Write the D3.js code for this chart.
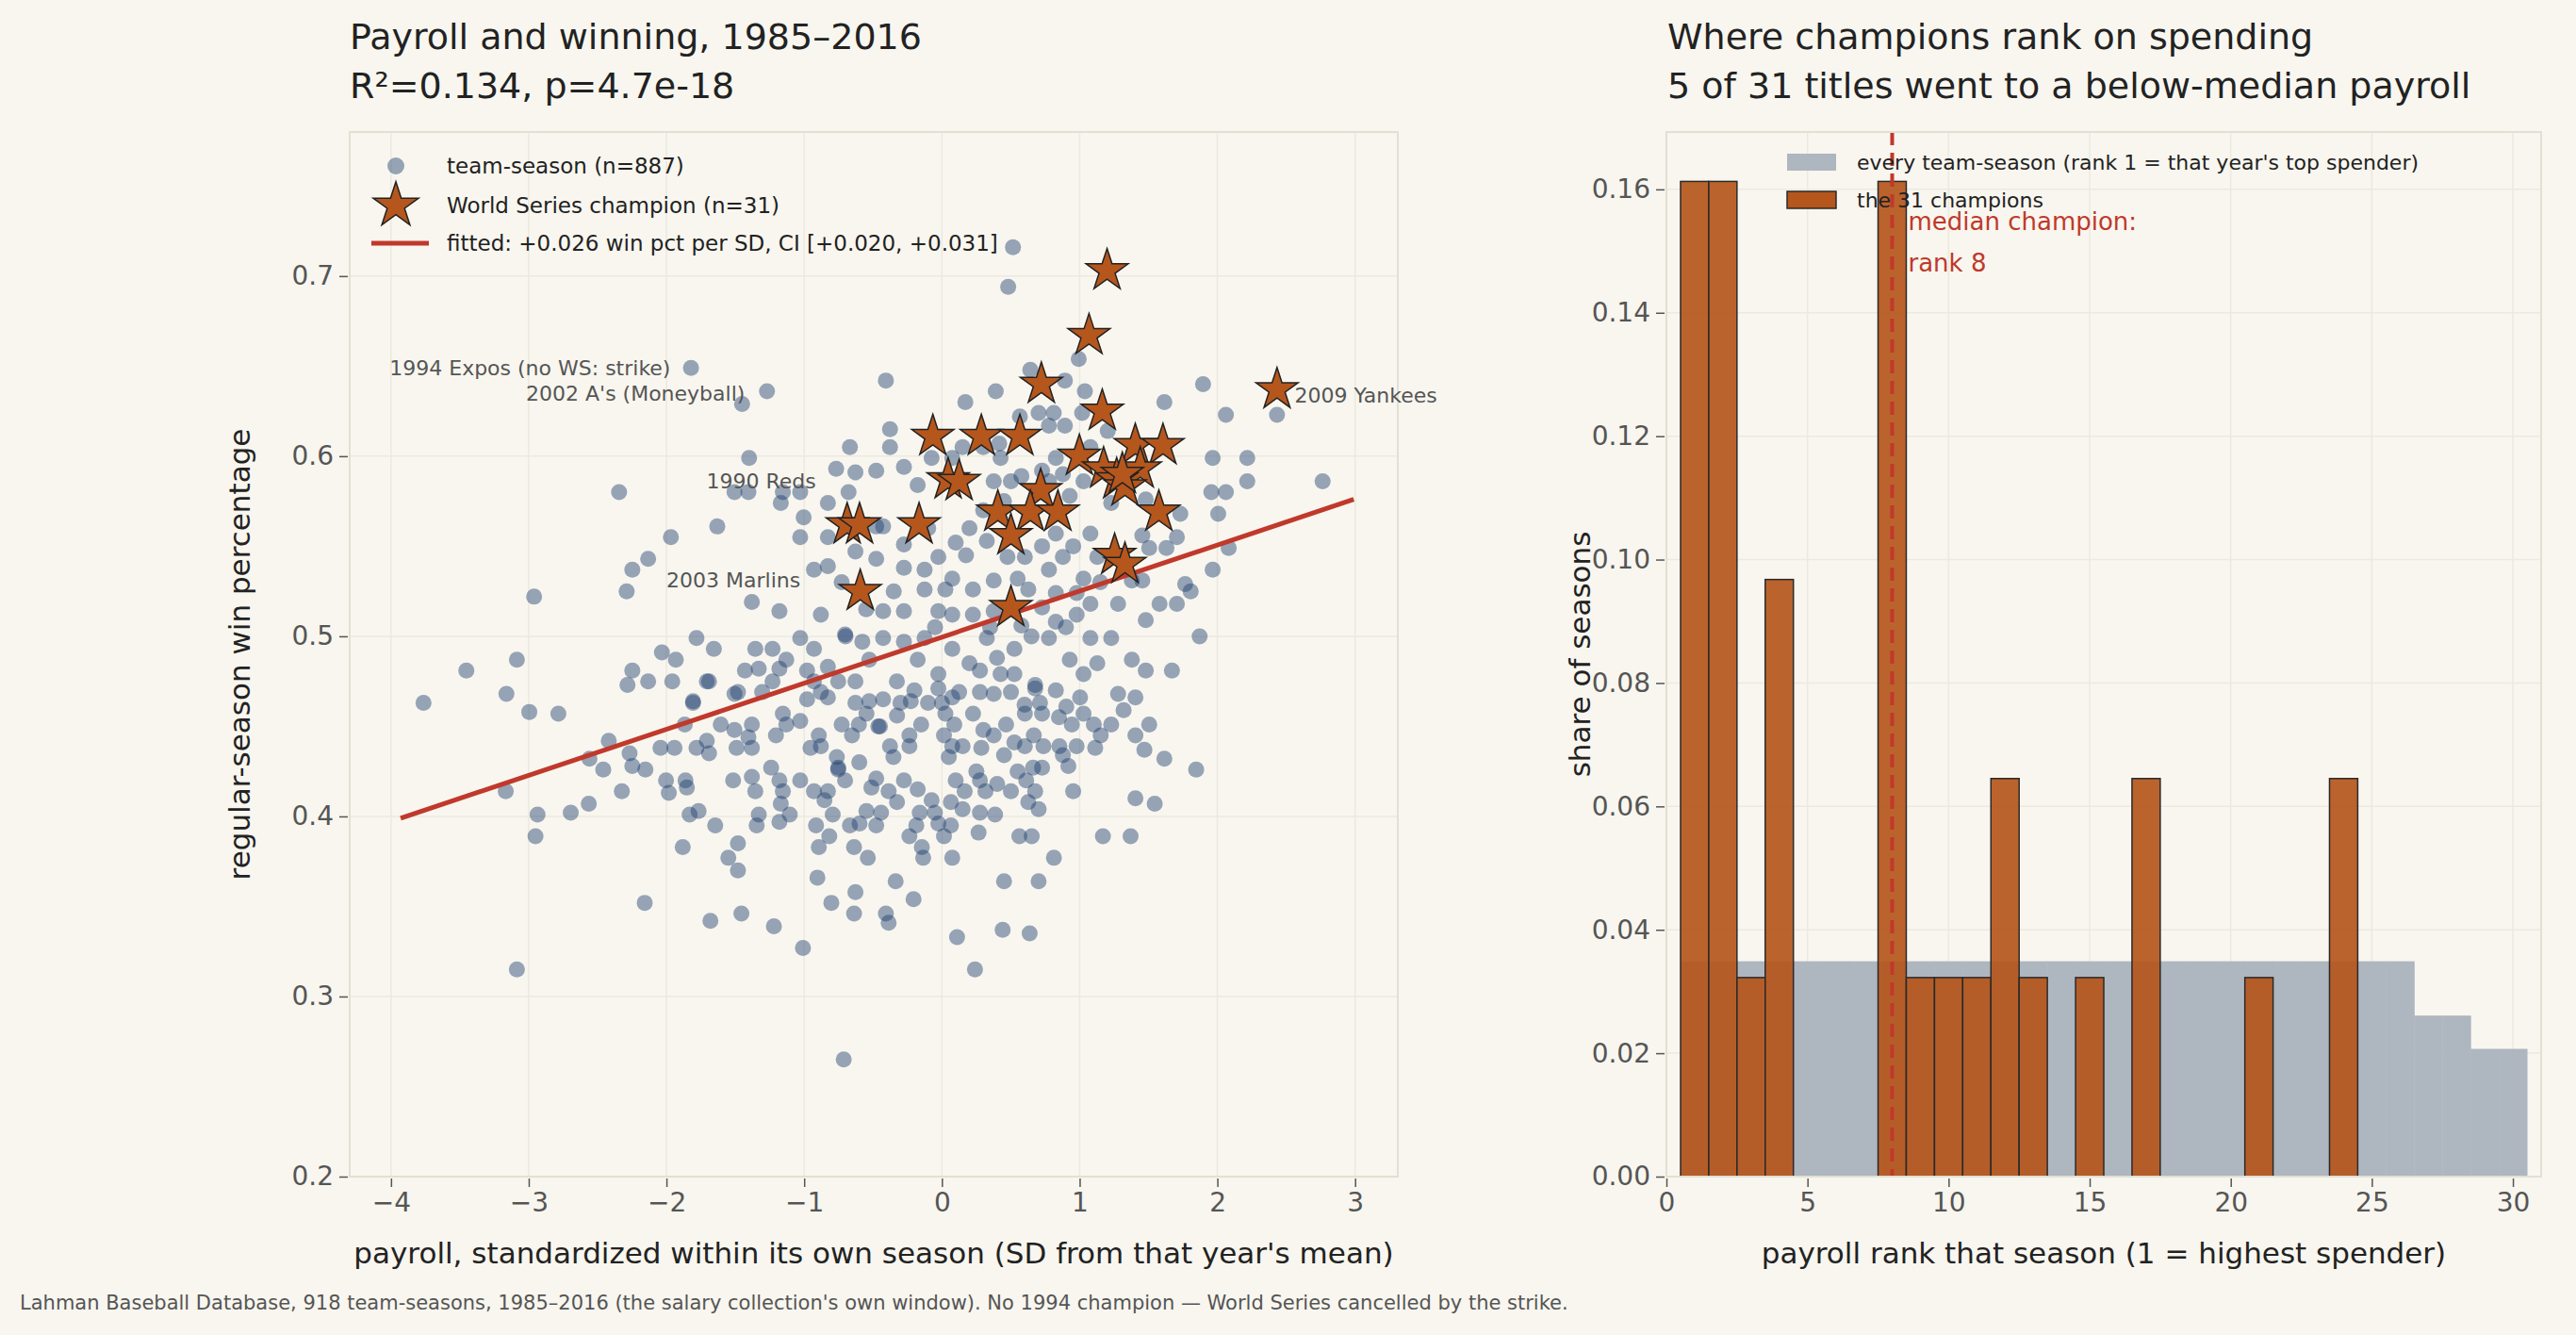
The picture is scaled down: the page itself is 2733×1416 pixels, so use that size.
<!DOCTYPE html>
<html>
<head>
<meta charset="utf-8">
<script src="https://d3js.org/d3.v7.min.js"></script>
<style>
  body { margin: 0; background: #f8f6ef; }
  svg { font-family: "DejaVu Sans", sans-serif; }
  .tick text { fill: #555; }
</style>
</head>
<body>
<svg id="chart" width="2733" height="1416"></svg>
<script>
// team-season points, [payroll SD, win pct]
var teamSeasons = [
[-1.822,0.649],[-1.270,0.636],[-1.451,0.629],[-0.407,0.642],[0.481,0.694],[0.516,0.716],[0.993,0.654],[0.642,0.648],
[0.893,0.642],[0.391,0.636],[0.170,0.630],[1.038,0.636],[1.018,0.624],[1.615,0.630],[1.896,0.640],[2.062,0.623],
[2.433,0.623],[0.566,0.622],[0.702,0.624],[0.812,0.624],[0.777,0.617],[0.893,0.617],[1.204,0.614],[-0.377,0.615],
[-0.668,0.605],[-0.377,0.605],[-1.400,0.599],[-2.344,0.580],[-1.631,0.561],[-1.968,0.555],[-2.133,0.543],[-2.248,0.537],
[-2.289,0.525],[-2.961,0.522],[1.966,0.599],[2.217,0.599],[2.217,0.586],[2.764,0.586],[1.956,0.580],[2.062,0.580],
[2.006,0.568],[2.082,0.549],[1.966,0.537],[1.766,0.529],[1.806,0.525],[1.871,0.500],[1.670,0.481],[1.480,0.481],
[1.706,0.518],[1.580,0.518],[1.480,0.509],[1.379,0.487],[1.229,0.499],[-0.768,0.593],[-0.628,0.591],[-0.477,0.592],
[-0.276,0.594],[-0.176,0.584],[-0.075,0.599],[0.075,0.599],[0.150,0.605],[0.301,0.605],[0.416,0.607],[0.426,0.599],
[0.376,0.586],[0.501,0.586],[0.577,0.589],[0.727,0.592],[0.827,0.599],[0.878,0.590],[0.777,0.586],[1.028,0.586],
[1.078,0.605],[0.928,0.578],[1.229,0.574],[1.480,0.576],[1.731,0.568],[1.455,0.556],[1.706,0.555],[1.505,0.549],
[1.630,0.549],[-1.155,0.580],[-1.029,0.580],[-1.506,0.580],[-1.405,0.580],[-1.170,0.574],[-0.828,0.574],[-0.678,0.580],
[-1.004,0.566],[-1.029,0.555],[-0.828,0.555],[-0.477,0.561],[-0.427,0.561],[-0.276,0.551],[-0.628,0.547],[-0.477,0.543],
[-0.828,0.539],[-0.929,0.537],[-0.728,0.530],[-0.276,0.538],[-0.126,0.537],[-0.026,0.544],[0.075,0.532],[0.175,0.545],
[0.326,0.553],[0.476,0.544],[0.602,0.544],[0.727,0.550],[0.827,0.557],[0.953,0.550],[1.078,0.557],[1.128,0.544],
[0.878,0.544],[0.777,0.537],[1.028,0.532],[1.379,0.531],[1.455,0.531],[-0.126,0.526],[0.025,0.526],[0.225,0.526],
[0.376,0.531],[0.627,0.526],[0.827,0.524],[0.978,0.524],[1.078,0.518],[1.279,0.518],[0.978,0.512],[-1.380,0.519],
[-1.180,0.514],[-0.879,0.512],[-1.355,0.493],[-1.230,0.493],[-1.029,0.499],[-0.929,0.493],[-1.782,0.499],[-2.033,0.491],
[-1.932,0.487],[-1.656,0.493],[-3.086,0.487],[-3.453,0.481],[-3.764,0.463],[-2.248,0.481],[-0.703,0.501],[-0.578,0.497],
[-0.427,0.499],[-0.276,0.497],[-0.126,0.499],[-0.427,0.514],[-0.276,0.514],[-0.026,0.514],[0.075,0.512],[0.225,0.512],
[0.376,0.514],[0.727,0.516],[0.827,0.508],[0.577,0.506],[0.326,0.499],[0.526,0.493],[0.777,0.499],[1.078,0.499],
[0.928,0.487],[1.128,0.485],[0.075,0.493],[-0.176,0.487],[-0.528,0.487],[-0.828,0.483],[-1.130,0.487],[-1.430,0.481],
[-1.230,0.475],[-0.929,0.475],[-0.628,0.475],[-0.327,0.475],[-0.026,0.479],[0.276,0.481],[0.526,0.479],[0.677,0.473],
[0.376,0.468],[0.075,0.466],[-0.226,0.464],[-0.528,0.464],[-0.828,0.466],[1.028,0.479],[1.279,0.468],[1.003,0.466],
[-2.133,0.475],[-1.958,0.475],[-1.707,0.475],[-1.807,0.464],[-1.506,0.468],[-3.162,0.468],[-2.283,0.473],
[-2.996,0.458],[-2.785,0.457],[-2.419,0.442],[-2.559,0.432],[-2.459,0.426],[-2.268,0.435],[-2.248,0.428],[-2.153,0.426],
[-2.324,0.414],[-2.564,0.407],[-2.695,0.402],[-2.936,0.401],[-2.951,0.389],[-3.167,0.414],[-2.043,0.438],[-1.942,0.438],
[-1.782,0.438],[-1.691,0.435],[-1.707,0.442],[-1.867,0.451],[-1.606,0.451],[-1.807,0.463],[-1.691,0.475],[-2.003,0.420],
[-1.983,0.413],[-1.862,0.420],[-1.852,0.416],[-1.832,0.401],[-1.767,0.403],[-1.646,0.395],[-1.882,0.383],[-1.481,0.385],
[-1.551,0.377],[-1.481,0.370],[-1.516,0.420],[-1.380,0.422],[-1.355,0.414],[-1.330,0.401],[-1.345,0.395],[-1.180,0.397],
[-1.105,0.401],[-1.170,0.407],[-1.155,0.414],[-1.180,0.420],[-1.240,0.427],[-1.029,0.420],[-0.929,0.414],[-0.828,0.414],
[-0.753,0.426],[-0.753,0.427],[-0.763,0.433],[-0.703,0.420],[-0.853,0.409],[-0.793,0.401],[-0.914,0.395],[-0.818,0.389],
[-0.894,0.383],[-0.638,0.383],[-0.668,0.395],[-0.598,0.396],[-0.538,0.377],[-0.477,0.395],[-0.442,0.402],[-0.548,0.403],
[-0.512,0.416],[-0.387,0.414],[-0.326,0.408],[-0.477,0.421],[-0.276,0.420],[-0.176,0.415],[-0.075,0.409],[-0.161,0.402],
[-0.051,0.402],[-0.186,0.395],[-0.236,0.389],[-0.146,0.383],[-0.136,0.377],[0.015,0.389],[-0.026,0.396],[0.065,0.395],
[0.075,0.377],[0.065,0.408],[0.100,0.420],[0.165,0.414],[0.276,0.420],[0.316,0.414],[0.401,0.418],[0.501,0.414],
[0.276,0.402],[0.386,0.401],[0.266,0.391],[0.562,0.389],[0.652,0.389],[0.627,0.408],[0.702,0.404],[0.677,0.414],
[0.612,0.420],[0.662,0.427],[0.727,0.427],[0.813,0.377],[0.953,0.414],[1.169,0.389],[1.370,0.389],[1.405,0.410],
[1.545,0.407],[1.846,0.426],[1.615,0.432],[1.470,0.437],[1.405,0.445],[1.505,0.451],[1.319,0.459],[1.405,0.466],
[1.229,0.451],[1.103,0.451],[1.113,0.438],[1.153,0.445],[0.918,0.428],[0.878,0.434],[0.853,0.439],[0.978,0.439],
[0.943,0.451],[1.028,0.457],[0.903,0.461],[0.827,0.470],[0.712,0.463],[0.677,0.471],[0.602,0.457],[0.727,0.457],
[0.667,0.445],[0.737,0.439],[0.602,0.439],[0.526,0.441],[0.451,0.434],[0.466,0.451],[0.376,0.445],[0.501,0.469],
[0.426,0.479],[0.276,0.469],[0.226,0.457],[0.301,0.448],[0.286,0.438],[0.150,0.439],[0.050,0.433],[0.075,0.439],
[0.015,0.445],[0.090,0.451],[0.025,0.457],[0.000,0.463],[0.125,0.469],[-0.026,0.471],[-0.101,0.463],[-0.151,0.451],
[-0.236,0.445],[-0.236,0.439],[-0.352,0.433],[-0.377,0.439],[-0.326,0.456],[-0.301,0.463],[-0.427,0.465],[-0.462,0.450],
[-0.548,0.457],[-0.603,0.451],[-0.653,0.445],[-0.728,0.451],[-0.628,0.463],[-0.753,0.475],[-0.879,0.469],[-0.979,0.465],
[-1.029,0.453],[-0.894,0.445],[-0.879,0.439],[-0.954,0.438],[-1.130,0.451],[-1.205,0.445],[-1.380,0.451],[-1.506,0.448],
[-1.405,0.444],[-1.380,0.438],[-1.491,0.438],[-1.481,0.469],[-1.305,0.469],[-1.155,0.457],[-0.979,0.481],[-1.180,0.482],
[-1.330,0.482],[-2.158,0.352],[-1.681,0.342],[-1.456,0.346],[-1.220,0.339],[-1.009,0.327],[-0.904,0.366],[-0.803,0.352],
[-0.628,0.358],[-0.638,0.346],[-0.407,0.346],[-0.387,0.341],[-0.336,0.364],[-0.206,0.354],[0.110,0.333],[0.451,0.364],
[0.702,0.364],[0.441,0.337],[0.637,0.335],[0.240,0.315],[-3.086,0.315],[-0.713,0.265],
[0.20,0.560],[0.30,0.570],[0.10,0.552],[-0.10,0.560],[0.45,0.575],[0.55,0.532],[0.35,0.505],[0.65,0.500],
[0.20,0.485],[-0.05,0.505],[-0.35,0.525],[-0.55,0.515],[0.90,0.505],[1.15,0.530],[0.25,0.425],[-0.60,0.430],
[0.55,0.425],[0.85,0.455],[-0.20,0.470],[-0.70,0.500],[0.60,0.462],[0.40,0.488],[-0.45,0.450],[0.15,0.404]
];
// World Series champions
var champions = [
[1.199,0.703],[1.068,0.667],[0.722,0.640],[1.164,0.625],[2.433,0.637],[-0.066,0.611],[0.286,0.611],[0.566,0.611],
[0.998,0.600],[1.404,0.606],[1.605,0.606],[1.174,0.593],[1.440,0.593],[1.269,0.587],[1.329,0.583],[0.045,0.587],
[0.125,0.586],[0.717,0.581],[0.406,0.569],[0.642,0.569],[0.842,0.569],[1.575,0.569],[-0.688,0.562],[-0.598,0.562],
[-0.166,0.562],[0.501,0.556],[1.254,0.545],[1.329,0.540],[-0.593,0.525],[0.501,0.516],[1.31,0.590]
];
var fitX = [-3.93, 2.99];
var fitY = [0.399, 0.576];
var notes = [
  {text: "1994 Expos (no WS: strike)", x: -1.97, y: 0.649, anchor: "end"},
  {text: "2002 A's (Moneyball)", x: -1.43, y: 0.635, anchor: "end"},
  {text: "1990 Reds", x: -1.71, y: 0.586, anchor: "start"},
  {text: "2003 Marlins", x: -2.0, y: 0.531, anchor: "start"},
  {text: "2009 Yankees", x: 2.56, y: 0.634, anchor: "start"}
];
var scatterXTicks = [-4, -3, -2, -1, 0, 1, 2, 3];
var scatterYTicks = [0.2, 0.3, 0.4, 0.5, 0.6, 0.7];

// payroll-rank histogram (share of seasons per rank)
var ranks = d3.range(1, 31);
var allShare = ranks.map(function(r) { return r <= 26 ? 0.0349 : (r <= 28 ? 0.0261 : 0.0207); });
var champCounts = [5,5,1,3,0,0,0,5,1,1,1,2,1,0,1,0,2,0,0,0,1,0,0,2,0,0,0,0,0,0];
var histXTicks = [0, 5, 10, 15, 20, 25, 30];
var histYTicks = [0, 0.02, 0.04, 0.06, 0.08, 0.10, 0.12, 0.14, 0.16];
var medianRank = 8;

var svg = d3.select("#chart");
var bg = "#f8f6ef", frame = "#e3e0d3", grid = "#ece9df";
var dotColor = "#1d3f6e", starColor = "#b5561c", fitColor = "#c0392b";

// ---------- left panel ----------
var L = {left: 371, right: 1483, top: 140, bottom: 1248};
var x1 = d3.scaleLinear().domain([-4.30, 3.31]).range([L.left, L.right]);
var y1 = d3.scaleLinear().domain([0.2, 0.78]).range([L.bottom, L.top]);

var g1 = svg.append("g");
g1.selectAll(".gx").data(scatterXTicks).join("line")
  .attr("x1", d => x1(d)).attr("x2", d => x1(d)).attr("y1", L.top).attr("y2", L.bottom)
  .attr("stroke", grid).attr("stroke-width", 1.5);
g1.selectAll(".gy").data(scatterYTicks).join("line")
  .attr("y1", d => y1(d)).attr("y2", d => y1(d)).attr("x1", L.left).attr("x2", L.right)
  .attr("stroke", grid).attr("stroke-width", 1.5);
g1.append("rect").attr("x", L.left).attr("y", L.top)
  .attr("width", L.right - L.left).attr("height", L.bottom - L.top)
  .attr("fill", "none").attr("stroke", frame).attr("stroke-width", 2);

g1.append("g").selectAll("circle").data(teamSeasons).join("circle")
  .attr("cx", d => x1(d[0])).attr("cy", d => y1(d[1])).attr("r", 8.5)
  .attr("fill", dotColor).attr("fill-opacity", 0.45);

g1.append("line")
  .attr("x1", x1(fitX[0])).attr("y1", y1(fitY[0]))
  .attr("x2", x1(fitX[1])).attr("y2", y1(fitY[1]))
  .attr("stroke", fitColor).attr("stroke-width", 5);

var star = d3.symbol().type(d3.symbolStar).size(620);
g1.append("g").selectAll("path").data(champions).join("path")
  .attr("d", star)
  .attr("transform", d => "translate(" + x1(d[0]) + "," + y1(d[1]) + ")")
  .attr("fill", starColor).attr("stroke", "#222").attr("stroke-width", 1.5);

g1.selectAll(".note").data(notes).join("text")
  .attr("x", d => x1(d.x)).attr("y", d => y1(d.y)).attr("dy", "0.35em")
  .attr("text-anchor", d => d.anchor)
  .attr("font-size", 22).attr("fill", "#555")
  .text(d => d.text);

var ax1 = g1.append("g").attr("transform", "translate(0," + (L.bottom + 2) + ")")
  .call(d3.axisBottom(x1).tickValues(scatterXTicks).tickSize(9).tickPadding(6)
    .tickFormat(d => d3.format("d")(d).replace("-", "\u2212")));
var ay1 = g1.append("g").attr("transform", "translate(" + (L.left - 2) + ",0)")
  .call(d3.axisLeft(y1).tickValues(scatterYTicks).tickSize(9).tickPadding(6).tickFormat(d3.format(".1f")));
[ax1, ay1].forEach(function(a) {
  a.select(".domain").remove();
  a.selectAll(".tick line").attr("stroke", "#555").attr("stroke-width", 1.5);
  a.selectAll(".tick text").attr("font-size", 28).attr("font-family", "DejaVu Sans");
});

g1.append("text").attr("x", (L.left + L.right) / 2).attr("y", 1340).attr("text-anchor", "middle")
  .attr("font-size", 31).attr("fill", "#222")
  .text("payroll, standardized within its own season (SD from that year's mean)");
g1.append("text").attr("transform", "translate(265,694) rotate(-90)").attr("text-anchor", "middle")
  .attr("font-size", 31).attr("fill", "#222").text("regular-season win percentage");
g1.append("text").attr("x", 371).attr("y", 52).attr("font-size", 38).attr("fill", "#222")
  .text("Payroll and winning, 1985\u20132016");
g1.append("text").attr("x", 371).attr("y", 104).attr("font-size", 38).attr("fill", "#222")
  .text("R\u00b2=0.134, p=4.7e-18");

// left legend
var lg = g1.append("g");
lg.append("circle").attr("cx", 420).attr("cy", 176).attr("r", 9).attr("fill", dotColor).attr("fill-opacity", 0.45);
lg.append("path").attr("d", d3.symbol().type(d3.symbolStar).size(720))
  .attr("transform", "translate(420,218)").attr("fill", starColor).attr("stroke", "#222").attr("stroke-width", 1.5);
lg.append("line").attr("x1", 394).attr("x2", 455).attr("y1", 258).attr("y2", 258)
  .attr("stroke", fitColor).attr("stroke-width", 5);
["team-season (n=887)", "World Series champion (n=31)", "fitted: +0.026 win pct per SD, CI [+0.020, +0.031]"]
  .forEach(function(t, i) {
    lg.append("text").attr("x", 474).attr("y", [176, 218, 258][i]).attr("dy", "0.35em")
      .attr("font-size", 23).attr("fill", "#222").text(t);
  });

// ---------- right panel ----------
var R = {left: 1768, right: 2696, top: 140, bottom: 1248};
var x2 = d3.scaleLinear().domain([0, 31]).range([R.left, R.right]);
var y2 = d3.scaleLinear().domain([0, 0.1693]).range([R.bottom, R.top]);
var g2 = svg.append("g");
g2.selectAll(".gx").data(histXTicks).join("line")
  .attr("x1", d => x2(d)).attr("x2", d => x2(d)).attr("y1", R.top).attr("y2", R.bottom)
  .attr("stroke", grid).attr("stroke-width", 1.5);
g2.selectAll(".gy").data(histYTicks).join("line")
  .attr("y1", d => y2(d)).attr("y2", d => y2(d)).attr("x1", R.left).attr("x2", R.right)
  .attr("stroke", grid).attr("stroke-width", 1.5);

g2.append("g").selectAll("rect").data(ranks).join("rect")
  .attr("x", d => x2(d - 0.5)).attr("width", x2(1) - x2(0) + 0.5)
  .attr("y", (d, i) => y2(allShare[i])).attr("height", (d, i) => y2(0) - y2(allShare[i]))
  .attr("fill", "#aeb6bf");

var nChamp = d3.sum(champCounts);
g2.append("g").selectAll("rect").data(ranks.filter((d, i) => champCounts[i] > 0)).join("rect")
  .attr("x", d => x2(d - 0.5)).attr("width", x2(1) - x2(0))
  .attr("y", d => y2(champCounts[d - 1] / nChamp)).attr("height", d => y2(0) - y2(champCounts[d - 1] / nChamp))
  .attr("fill", "#b5561c").attr("fill-opacity", 0.92).attr("stroke", "#2a2a2a").attr("stroke-width", 1.5);

g2.append("line").attr("x1", x2(medianRank)).attr("x2", x2(medianRank)).attr("y1", R.top).attr("y2", R.bottom)
  .attr("stroke", fitColor).attr("stroke-width", 4).attr("stroke-dasharray", "14,8");
g2.append("text").attr("x", x2(medianRank) + 17).attr("y", 244).attr("font-size", 26).attr("fill", fitColor)
  .text("median champion:");
g2.append("text").attr("x", x2(medianRank) + 17).attr("y", 288).attr("font-size", 26).attr("fill", fitColor)
  .text("rank 8");

g2.append("rect").attr("x", R.left).attr("y", R.top)
  .attr("width", R.right - R.left).attr("height", R.bottom - R.top)
  .attr("fill", "none").attr("stroke", frame).attr("stroke-width", 2);

var ax2 = g2.append("g").attr("transform", "translate(0," + (R.bottom + 2) + ")")
  .call(d3.axisBottom(x2).tickValues(histXTicks).tickSize(9).tickPadding(6));
var ay2 = g2.append("g").attr("transform", "translate(" + (R.left - 2) + ",0)")
  .call(d3.axisLeft(y2).tickValues(histYTicks).tickSize(9).tickPadding(6).tickFormat(d3.format(".2f")));
[ax2, ay2].forEach(function(a) {
  a.select(".domain").remove();
  a.selectAll(".tick line").attr("stroke", "#555").attr("stroke-width", 1.5);
  a.selectAll(".tick text").attr("font-size", 28).attr("font-family", "DejaVu Sans");
});

g2.append("text").attr("x", (R.left + R.right) / 2).attr("y", 1340).attr("text-anchor", "middle")
  .attr("font-size", 31).attr("fill", "#222").text("payroll rank that season (1 = highest spender)");
g2.append("text").attr("transform", "translate(1687,694) rotate(-90)").attr("text-anchor", "middle")
  .attr("font-size", 31).attr("fill", "#222").text("share of seasons");
g2.append("text").attr("x", 1769).attr("y", 52).attr("font-size", 38).attr("fill", "#222")
  .text("Where champions rank on spending");
g2.append("text").attr("x", 1769).attr("y", 104).attr("font-size", 38).attr("fill", "#222")
  .text("5 of 31 titles went to a below-median payroll");

var rg = g2.append("g");
rg.append("rect").attr("x", 1896).attr("y", 163).attr("width", 52).attr("height", 18).attr("fill", "#aeb6bf");
rg.append("rect").attr("x", 1896).attr("y", 203).attr("width", 52).attr("height", 18)
  .attr("fill", "#b5561c").attr("stroke", "#2a2a2a").attr("stroke-width", 1.5);
rg.append("text").attr("x", 1970).attr("y", 172).attr("dy", "0.35em").attr("font-size", 22).attr("fill", "#222")
  .text("every team-season (rank 1 = that year's top spender)");
rg.append("text").attr("x", 1970).attr("y", 212).attr("dy", "0.35em").attr("font-size", 22).attr("fill", "#222")
  .text("the 31 champions");

svg.append("text").attr("x", 21).attr("y", 1389).attr("font-size", 21).attr("fill", "#555")
  .text("Lahman Baseball Database, 918 team-seasons, 1985\u20132016 (the salary collection's own window). No 1994 champion \u2014 World Series cancelled by the strike.");
</script>
</body>
</html>
